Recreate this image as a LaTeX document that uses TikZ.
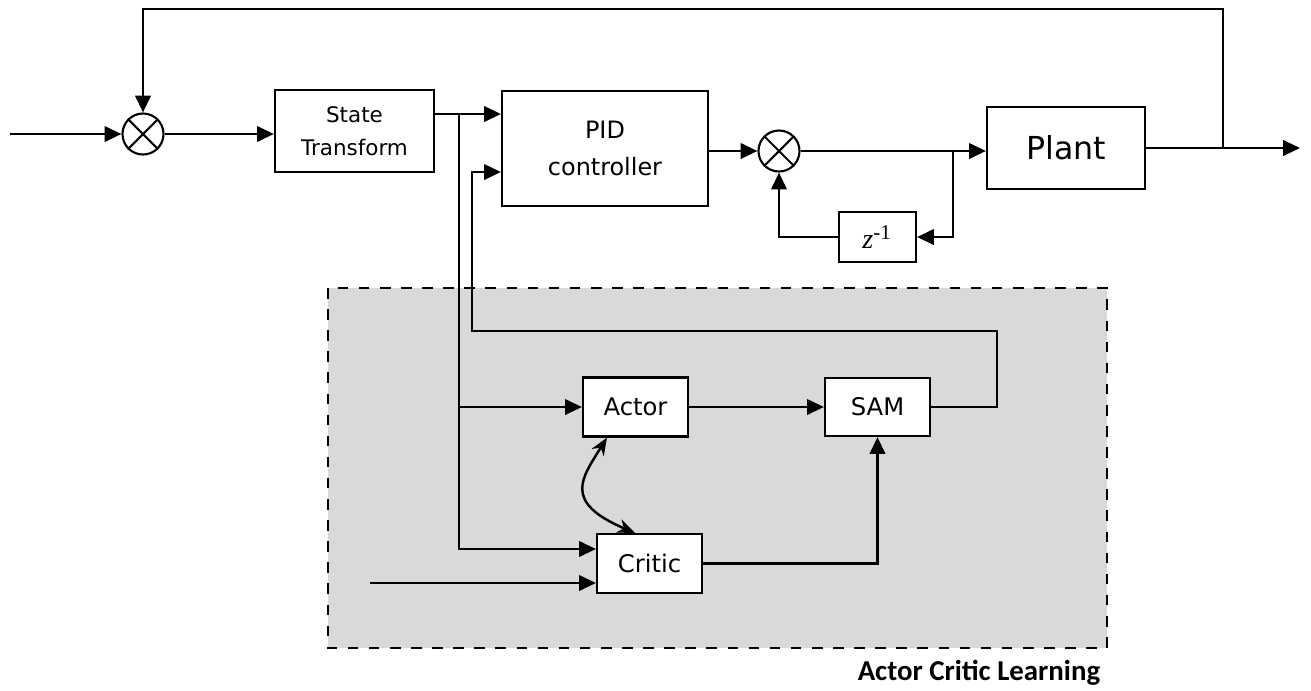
\documentclass[tikz,border=0pt]{standalone}
\usepackage{fontspec}
\setmainfont{DejaVu Sans}
\newfontfamily\boldlabel{Carlito}
\newfontfamily\serifz{Liberation Serif}
\usetikzlibrary{arrows.meta,calc}
\begin{document}
\begin{tikzpicture}[x=0.01cm,y=-0.01cm,
    >={Triangle[length=4.8pt,width=4.4pt]},
    line width=0.7pt,
    block/.style={draw,fill=white,line width=0.6pt,inner sep=0pt,align=center,font=\fontsize{6.9}{9}\selectfont},
    sumnode/.style={draw,circle,fill=white,minimum size=0.41cm,inner sep=0pt,line width=0.6pt}]
    \useasboundingbox (0,0) rectangle (1311,690);
    % 学习区域
    \draw[dashed,fill=black!15,line width=0.6pt] (328,288) rectangle (1107,648);
    \node[font=\boldlabel\bfseries\fontsize{8.2}{10}\selectfont] (aclabel) at (979,673) {Actor Critic Learning};
    % 主回路方块
    \node[sumnode] (sum1) at (143,134) {};
    \node[block,minimum width=1.59cm,minimum height=0.82cm,font=\fontsize{6.1}{9.5}\selectfont] (st) at (354.5,131) {State\\Transform};
    \node[block,minimum width=2.06cm,minimum height=1.15cm,font=\fontsize{6.8}{10.5}\selectfont] (pid) at (605,148.5) {PID\\controller};
    \node[sumnode] (sum2) at (779,151) {};
    \node[block,minimum width=1.58cm,minimum height=0.82cm,font=\fontsize{9}{11}\selectfont] (plant) at (1066,148) {Plant};
    \node[block,minimum width=0.77cm,minimum height=0.5cm,font=\serifz\fontsize{8}{10}\selectfont] (zinv) at (877.5,237) {\textit{z}\textsuperscript{-1}};
    % 学习模块
    \node[block,minimum width=1.05cm,minimum height=0.59cm] (actor) at (635.5,407) {Actor};
    \node[block,minimum width=1.05cm,minimum height=0.58cm] (sam) at (877.5,407) {SAM};
    \node[block,minimum width=1.05cm,minimum height=0.59cm] (critic) at (649.5,563.5) {Critic};
    % 乘法符号
    \foreach \s in {sum1,sum2} {
        \draw[line width=0.6pt] (\s.north west) -- (\s.south east);
        \draw[line width=0.6pt] (\s.north east) -- (\s.south west);
    }
    % 辅助点
    \coordinate (in1) at (10,134);
    \coordinate (br1) at (459,114);
    \coordinate (br2) at (953,151);
    \coordinate (br3) at (1223,148);
    \coordinate (top) at (1223,9);
    \coordinate (out) at (1300,148);
    \coordinate (ret) at (997,331);
    \coordinate (cin) at (370,583);
    \coordinate (pidin2) at ([yshift=-0.235cm]pid.west);
    \coordinate (ret2) at ([xshift=-0.29cm]pidin2);
    \coordinate (cin1) at ([yshift=0.145cm]critic.west);
    % 主回路连线
    \draw[->] (in1) -- (sum1.west);
    \draw[->] (sum1.east) -- (sum1.east -| st.west);
    \draw[->] (st.east |- br1) -- (pid.west |- br1);
    \draw[->] (pid.east |- sum2) -- (sum2.west);
    \draw[->] (sum2.east) -- (plant.west |- sum2);
    \draw[->] (br2) |- (zinv.east);
    \draw[->] (zinv.west) -| (sum2.south);
    \draw[->] (plant.east) -- (out);
    \draw[->] (br3) -- (top) -| (sum1.north);
    % 学习回路连线
    \draw[->] (br1) |- (cin1);
    \draw[->] (br1 |- actor.west) -- (actor.west);
    \draw[->] (actor.east) -- (sam.west);
    \draw[->] (critic.east) -| (sam.south);
    \draw[->] (sam.east) -| (ret) -| (ret2) -- (pidin2);
    \draw[->] (cin) -- (critic.west |- cin);
    \draw[{Stealth[length=5pt,width=4pt]}-{Stealth[length=5pt,width=4pt]}] ([xshift=-0.285cm]actor.south) .. controls (582,478) and (562,502) .. ([xshift=-0.145cm]critic.north);
\end{tikzpicture}
\end{document}
